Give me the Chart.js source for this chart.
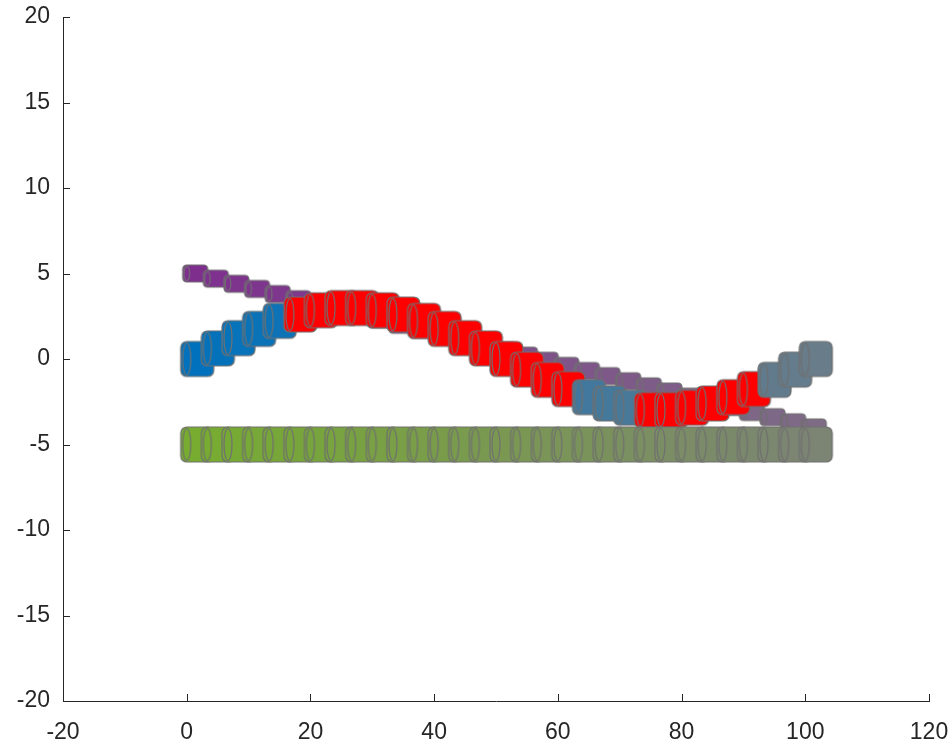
<!DOCTYPE html>
<html>
<head>
<meta charset="utf-8">
<script src="https://cdn.jsdelivr.net/npm/chart.js@4"></script>
<style>
  body { margin: 0; background: #fff; }
</style>
</head>
<body>
<canvas id="tubeChart" width="952" height="745"></canvas>
<script>
// --- data ---
const xVals = [0, 3.33, 6.67, 10, 13.33, 16.67, 20, 23.33, 26.67, 30, 33.33, 36.67, 40, 43.33, 46.67, 50,
               53.33, 56.67, 60, 63.33, 66.67, 70, 73.33, 76.67, 80, 83.33, 86.67, 90, 93.33, 96.67, 100];
const waveVals = [0, 0.62, 1.22, 1.76, 2.23, 2.6, 2.85, 2.98, 2.98, 2.85, 2.6, 2.23, 1.76, 1.22, 0.62, 0,
                  -0.62, -1.22, -1.76, -2.23, -2.6, -2.85, -2.98, -2.98, -2.85, -2.6, -2.23, -1.76, -1.22, -0.62, 0];
const slopeVals = [5, 4.7, 4.4, 4.1, 3.8, 3.5, 3.2, 2.9, 2.6, 2.3, 2.0, 1.7, 1.4, 1.1, 0.8, 0.5,
                   0.2, -0.1, -0.4, -0.7, -1.0, -1.3, -1.6, -1.9, -2.2, -2.5, -2.8, -3.1, -3.4, -3.7, -4.0];
const flatVals = [-5, -5, -5, -5, -5, -5, -5, -5, -5, -5, -5, -5, -5, -5, -5, -5,
                  -5, -5, -5, -5, -5, -5, -5, -5, -5, -5, -5, -5, -5, -5, -5];
// points of the wave drawn in red
const redPoints = [5, 6, 7, 8, 9, 10, 11, 12, 13, 14, 15, 16, 17, 18, 22, 23, 24, 25, 26, 27];
const xTicks = [-20, 0, 20, 40, 60, 80, 100, 120];
const yTicks = [-20, -15, -10, -5, 0, 5, 10, 15, 20];

const EDGE = 'rgb(112,112,112)';

function mix(a, b, t) {
    return `rgb(${Math.round(a[0] + (b[0] - a[0]) * t)},${Math.round(a[1] + (b[1] - a[1]) * t)},${Math.round(a[2] + (b[2] - a[2]) * t)})`;
}

// one cylinder piece: rounded box, with its face ellipse sitting on the point
function cylinder(color, h, back, len, radius, rx) {
    const c = document.createElement('canvas');
    c.width = Math.ceil(2 * (len + 2));
    c.height = Math.ceil(h + 4);
    const g = c.getContext('2d');
    const cx = c.width / 2, cy = c.height / 2;
    g.beginPath();
    g.roundRect(cx - back, cy - h / 2, back + len, h, radius);
    g.fillStyle = color;
    g.fill();
    g.lineWidth = 1.2;
    g.strokeStyle = EDGE;
    g.stroke();
    g.beginPath();
    g.ellipse(cx, cy, rx, h / 2 - 1.5, 0, 0, Math.PI * 2);
    g.stroke();
    return c;
}

function tubeStyles(from, to, dims, reds) {
    return xVals.map((x, i) => {
        const col = reds && reds.includes(i) ? 'rgb(255,0,0)' : mix(from, to, i / (xVals.length - 1));
        return cylinder(col, dims.h, dims.back, dims.len, dims.radius, dims.rx);
    });
}

function points(ys) {
    return xVals.map((x, i) => ({ x: x, y: ys[i] }));
}

const insideTicks = {
    id: 'insideTicks',
    afterDraw(chart) {
        const ctx = chart.ctx;
        const xs = chart.scales.x, ys = chart.scales.y;
        const area = chart.chartArea;
        ctx.save();
        ctx.strokeStyle = '#262626';
        ctx.lineWidth = 1;
        xTicks.forEach(t => {
            const px = Math.round(xs.getPixelForValue(t)) + 0.5;
            ctx.beginPath();
            ctx.moveTo(px, area.bottom);
            ctx.lineTo(px, area.bottom - 7);
            ctx.stroke();
        });
        yTicks.forEach(t => {
            const py = Math.round(ys.getPixelForValue(t)) + 0.5;
            ctx.beginPath();
            ctx.moveTo(area.left, py);
            ctx.lineTo(area.left + 7, py);
            ctx.stroke();
        });
        ctx.restore();
    }
};

const tickFont = { family: '"Liberation Sans", Arial, Helvetica, sans-serif', size: 23 };
const bigTube = { h: 35, back: 6, len: 27, radius: 6, rx: 4 };
const thinTube = { h: 17, back: 4, len: 21, radius: 4, rx: 2.8 };

new Chart(document.getElementById('tubeChart'), {
    type: 'scatter',
    data: {
        datasets: [
            {
                label: 'flat',
                data: points(flatVals),
                order: 0,
                pointStyle: tubeStyles([119, 172, 48], [124, 132, 116], bigTube),
                pointRadius: 3
            },
            {
                label: 'wave',
                data: points(waveVals),
                order: 1,
                pointStyle: tubeStyles([0, 114, 189], [104, 124, 138], bigTube, redPoints),
                pointRadius: 3
            },
            {
                label: 'slope',
                data: points(slopeVals),
                order: 2,
                pointStyle: tubeStyles([126, 47, 142], [126, 108, 134], thinTube),
                pointRadius: 3
            }
        ]
    },
    options: {
        responsive: false,
        animation: false,
        events: [],
        layout: { padding: { top: 17, right: 23, left: 0, bottom: 0 } },
        plugins: { legend: { display: false }, tooltip: { enabled: false } },
        scales: {
            x: {
                type: 'linear',
                min: -20,
                max: 120,
                afterBuildTicks: s => { s.ticks = xTicks.map(v => ({ value: v })); },
                afterFit: s => { s.height = 44; s.paddingLeft = 0; s.paddingRight = 0; },
                grid: { drawOnChartArea: false, drawTicks: false },
                border: { display: true, color: '#262626', width: 1 },
                ticks: { font: tickFont, color: '#262626', padding: 18, maxRotation: 0 }
            },
            y: {
                type: 'linear',
                min: -20,
                max: 20,
                afterBuildTicks: s => { s.ticks = yTicks.map(v => ({ value: v })); },
                afterFit: s => { s.width = 63; s.paddingTop = 0; s.paddingBottom = 0; },
                grid: { drawOnChartArea: false, drawTicks: false },
                border: { display: true, color: '#262626', width: 1 },
                ticks: { font: tickFont, color: '#262626', padding: 13 }
            }
        }
    },
    plugins: [insideTicks]
});
</script>
</body>
</html>
